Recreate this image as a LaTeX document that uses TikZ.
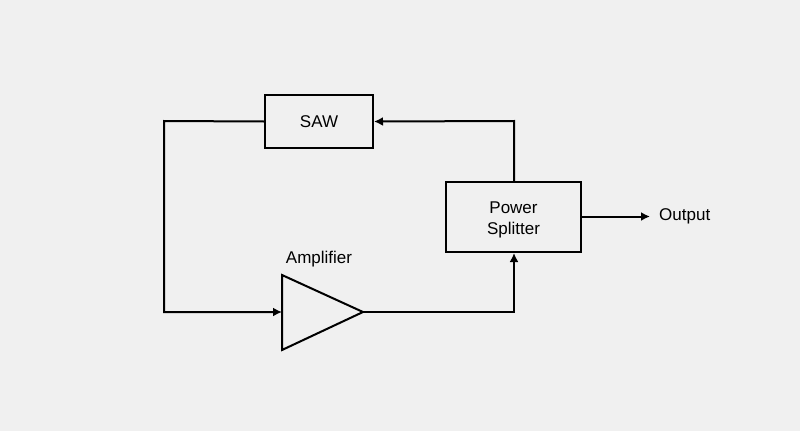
\documentclass[tikz,border=0pt]{standalone}
\usepackage{fontspec}
\setmainfont{Liberation Sans}
\usetikzlibrary{arrows.meta}
\definecolor{bg}{HTML}{F0F0F0}
\begin{document}
\begin{tikzpicture}[x=1pt,y=-1pt,
  blk/.style={draw=black,line width=2pt,fill=bg,inner sep=0pt,align=center,font=\fontsize{17}{21}\selectfont},
  lbl/.style={inner sep=0pt,font=\fontsize{17}{21}\selectfont},
  wire/.style={draw=black,line width=2pt},
  arr/.style={wire,-{Latex[length=9pt,width=9pt]}}]
\fill[bg] (0,0) rectangle (800,431);
\useasboundingbox (0,0) rectangle (800,431);
\node[blk,minimum width=108pt,minimum height=53pt] (saw) at (319,121.5) {SAW};
\node[blk,minimum width=135pt,minimum height=70pt] (ps) at (513.5,217) {};
\node[lbl,anchor=base] (pst1) at (513.5,213) {Power};
\node[lbl,anchor=base] (pst2) at (513.5,234) {Splitter};
\draw[line width=2pt,fill=bg,line join=miter] (282,275) -- (363,312) -- (282,350) -- cycle;
\coordinate (ampin) at (282,312);
\coordinate (ampout) at (363,312);
\node[lbl,anchor=base] (amplbl) at (319,263) {Amplifier};
\node[lbl,anchor=west] (out) at (659,216.5) {Output};
\coordinate (c1) at (164,121);
\coordinate (c2) at (164,312);
\coordinate (c3) at (514,312);
\coordinate (c4) at (514,121);
\draw[arr] (saw.west) -- (c1) -- (c2) -- (ampin);
\draw[arr] (ampout) -- (c3) -- (ps.south -| c3);
\draw[arr] (ps.north -| c4) -- (c4) -- (saw.east);
\draw[arr] (ps.east |- out) -- ([xshift=-9pt]out.west);
\end{tikzpicture}
\end{document}
